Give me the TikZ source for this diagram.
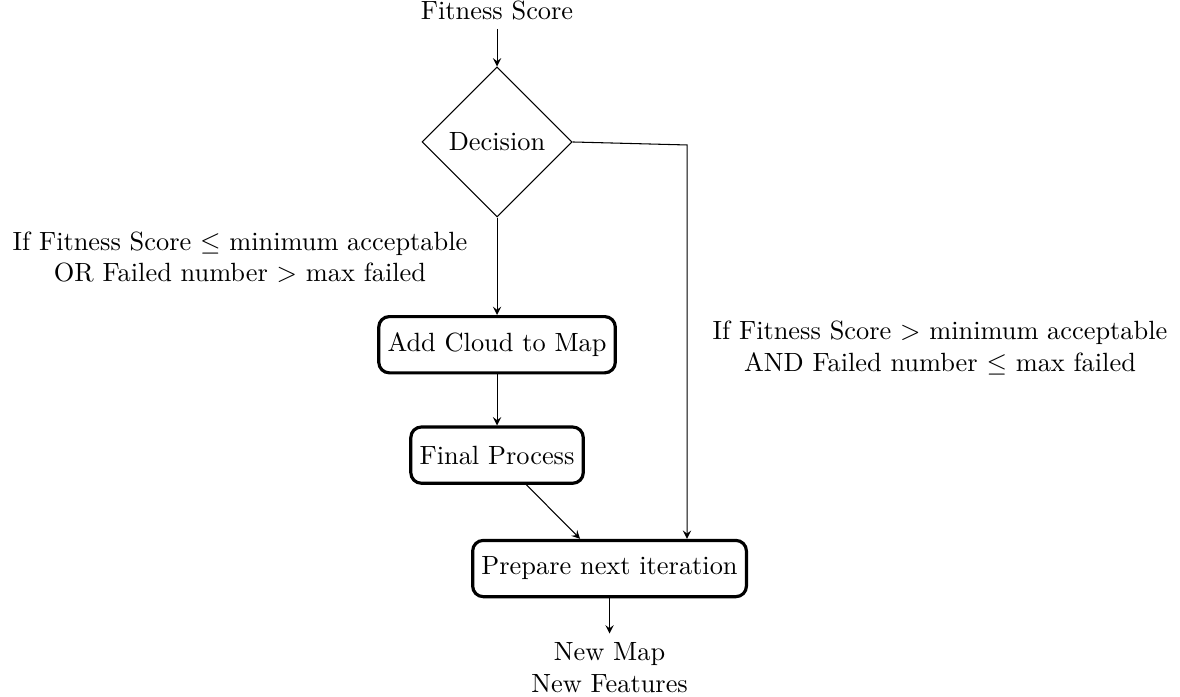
\documentclass[tikz,border=0pt]{standalone}
\usepackage{amsmath}
\usepackage{tikz}
\usetikzlibrary{arrows.meta,positioning,shapes.geometric}

\begin{document}
\begin{tikzpicture}[
  decide/.style={diamond,draw,minimum width=2cm,minimum height=2cm,align=center},
  proc/.style={rectangle,rounded corners=4pt,draw,very thick,
               minimum height=7.5mm,align=center},
  arr/.style={->,>=stealth},
  node distance=5mm
]
\useasboundingbox (0,0) rectangle (15.733,-9.293);
\node[decide] (decision) at (6.627,-1.893) {Decision};
\node[above=of decision] (fitness) {Fitness Score};
\node[proc,below=1.3cm of decision] (addcloud) {Add Cloud to Map};
\node[proc,below=6.8mm of addcloud] (final) {Final Process};
\node[proc,below=7.2mm of final,xshift=1.5cm] (prepare) {Prepare next iteration};
\node[below=4.7mm of prepare,align=center] (newmap) {New Map\\New Features};
\coordinate (bend) at (9.16,-1.933);
% branch labels
\node[align=center] (lowlbl) at (3.2,-3.43)
  {If Fitness Score $\leq$ minimum acceptable\\OR Failed number $>$ max failed};
\node[align=center] (highlbl) at (12.533,-4.64)
  {If Fitness Score $>$ minimum acceptable\\AND Failed number $\leq$ max failed};
\draw[arr] (fitness) -- (decision);
\draw[arr] (decision) -- (addcloud);
\draw[arr] (addcloud) -- (final);
\draw[arr] (final) -- (prepare);
\draw[arr] (decision.east) -- (bend) -- (bend |- prepare.north);
\draw[arr] (prepare) -- (newmap);
\end{tikzpicture}
\end{document}
